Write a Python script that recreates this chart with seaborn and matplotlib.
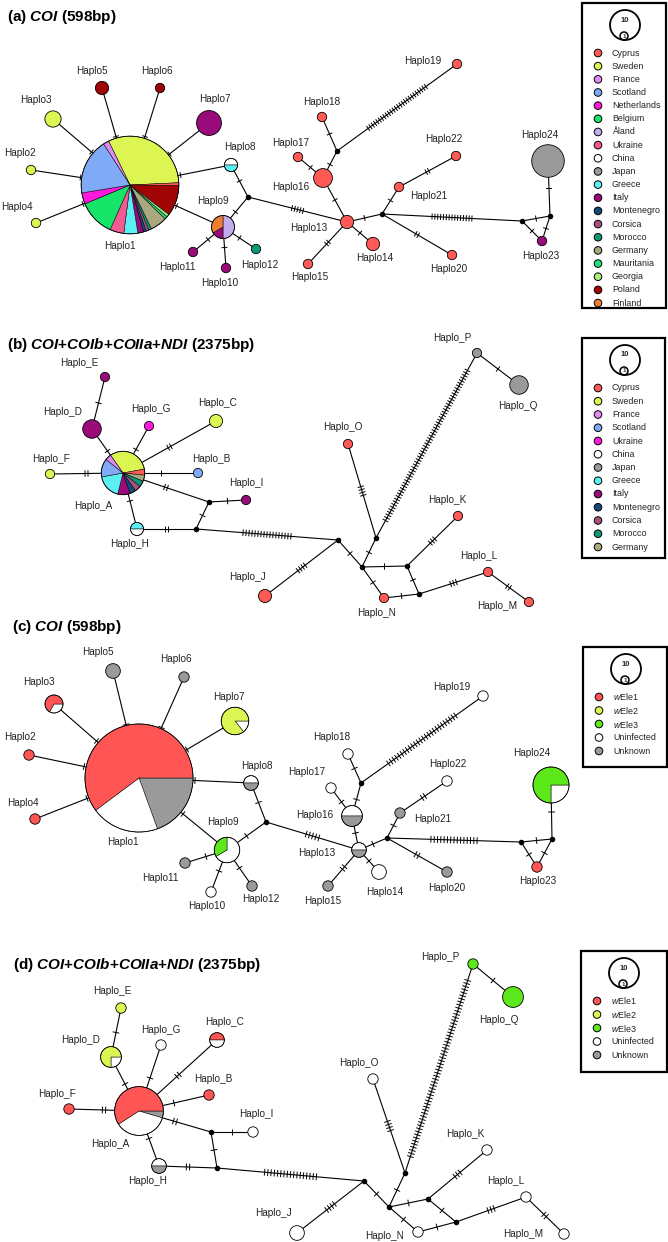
import numpy as np
import matplotlib
matplotlib.use("Agg")
import matplotlib.pyplot as plt
from matplotlib.patches import Wedge, Circle, Rectangle
from matplotlib.collections import LineCollection
import seaborn as sns

sns.set_theme(style="white")
plt.rcParams['font.family'] = ['Liberation Sans', 'DejaVu Sans']
plt.rcParams['mathtext.fontset'] = 'custom'
plt.rcParams['mathtext.rm'] = 'Liberation Sans'
plt.rcParams['mathtext.it'] = 'Liberation Sans:italic'
plt.rcParams['mathtext.bf'] = 'Liberation Sans:bold'
plt.rcParams['mathtext.bfit'] = 'Liberation Sans:italic:bold'

# colours
country_colors = {
    "Cyprus": "#FF5A55", "Sweden": "#DDF553", "France": "#DF8AF2", "Scotland": "#80AAF5",
    "Netherlands": "#FF19DC", "Belgium": "#16E56A", "Åland": "#C2AEEC", "Ukraine": "#F45A92",
    "China": "#FFFFFF", "Japan": "#9A9A9A", "Greece": "#5CF0F5", "Italy": "#9A0A7A",
    "Montenegro": "#0F4A7A", "Corsica": "#A8507E", "Morocco": "#0E9878", "Germany": "#A9A87E",
    "Mauritania": "#20E07A", "Georgia": "#A9F07E", "Poland": "#A00404", "Finland": "#F07E30",
}
country_colors_b = dict(country_colors, Ukraine="#FF19DC")
infection_colors = {"wEle1": "#FF5555", "wEle2": "#DDF553", "wEle3": "#5CE81A",
                    "Uninfected": "#FFFFFF", "Unknown": "#9A9A9A"}

# ---------------- COI haplotypes (panels a, c) ----------------
coi_names = ["Haplo%d" % i for i in range(1, 25)]
coi_country = [
    [("Sweden", 34), ("Cyprus", 1), ("Poland", 11), ("Georgia", 1), ("Mauritania", 1),
     ("Germany", 6), ("Morocco", 1), ("Corsica", 1), ("Montenegro", 1), ("Italy", 2),
     ("Greece", 5), ("Ukraine", 5), ("Belgium", 13), ("Netherlands", 4), ("Scotland", 20),
     ("France", 2)],
    [("Sweden", 1)], [("Sweden", 3)], [("Sweden", 1)], [("Poland", 2)], [("Poland", 1)],
    [("Italy", 7)], [("China", 1), ("Greece", 1)], [("Åland", 3), ("Italy", 1), ("Finland", 2)],
    [("Italy", 1)], [("Italy", 1)], [("Morocco", 1)], [("Cyprus", 2)], [("Cyprus", 2)],
    [("Cyprus", 1)], [("Cyprus", 4)], [("Cyprus", 1)], [("Cyprus", 1)], [("Cyprus", 1)],
    [("Cyprus", 1)], [("Cyprus", 1)], [("Cyprus", 1)], [("Italy", 1)], [("Japan", 12)],
]
coi_infection = [
    [("Unknown", 21), ("Uninfected", 22), ("wEle1", 65)],
    [("wEle1", 1)], [("Uninfected", 1), ("wEle1", 2)], [("wEle1", 1)], [("Unknown", 2)],
    [("Unknown", 1)], [("Uninfected", 1), ("wEle2", 6)], [("Uninfected", 1), ("Unknown", 1)],
    [("Uninfected", 4), ("wEle3", 2)], [("Uninfected", 1)], [("Unknown", 1)], [("Unknown", 1)],
    [("Uninfected", 1), ("Unknown", 1)], [("Uninfected", 2)], [("Unknown", 1)],
    [("Uninfected", 2), ("Unknown", 2)], [("Uninfected", 1)], [("Uninfected", 1)],
    [("Uninfected", 1)], [("Unknown", 1)], [("Unknown", 1)], [("Uninfected", 1)],
    [("wEle1", 1)], [("Uninfected", 3), ("wEle3", 9)],
]
# (from, to, number of mutations)
coi_edges = [
    ("Haplo2", "Haplo1", 1), ("Haplo3", "Haplo1", 1), ("Haplo4", "Haplo1", 1),
    ("Haplo5", "Haplo1", 1), ("Haplo6", "Haplo1", 1), ("Haplo7", "Haplo1", 1),
    ("Haplo8", "Haplo1", 1), ("Haplo9", "Haplo1", 1), ("Haplo8", "mv1", 1),
    ("Haplo9", "mv1", 1), ("Haplo9", "Haplo10", 1), ("Haplo9", "Haplo11", 1),
    ("Haplo9", "Haplo12", 1), ("mv1", "Haplo13", 5), ("Haplo13", "Haplo16", 1),
    ("Haplo16", "Haplo17", 1), ("Haplo16", "mv2", 1), ("mv2", "Haplo18", 1),
    ("mv2", "Haplo19", 26), ("Haplo13", "Haplo14", 1), ("Haplo13", "Haplo15", 2),
    ("Haplo13", "mv3", 1), ("mv3", "Haplo21", 1), ("Haplo21", "Haplo22", 2),
    ("mv3", "Haplo20", 2), ("mv3", "mv4", 15), ("mv4", "mv5", 1), ("mv4", "Haplo23", 1),
    ("mv5", "Haplo23", 1), ("mv5", "Haplo24", 1),
]

# ---------------- concatenated haplotypes (panels b, d) ----------------
cat_names = ["Haplo_" + c for c in "ABCDEFGHIJKLMNOPQ"]
cat_country = [
    [("Sweden", 7), ("Cyprus", 1), ("Germany", 1), ("Morocco", 1), ("Corsica", 1),
     ("Montenegro", 1), ("Italy", 2), ("Greece", 4), ("Scotland", 3), ("France", 1)],
    [("Scotland", 1)], [("Sweden", 2)], [("Italy", 4)], [("Italy", 1)], [("Sweden", 1)],
    [("Ukraine", 1)], [("Greece", 1), ("China", 1)], [("Italy", 1)], [("Cyprus", 2)],
    [("Cyprus", 1)], [("Cyprus", 1)], [("Cyprus", 1)], [("Cyprus", 1)], [("Cyprus", 1)],
    [("Japan", 1)], [("Japan", 4)],
]
cat_infection = [
    [("Unknown", 1), ("Uninfected", 8), ("wEle1", 13)],
    [("wEle1", 1)], [("wEle1", 1), ("Uninfected", 1)], [("Uninfected", 1), ("wEle2", 3)],
    [("wEle2", 1)], [("wEle1", 1)], [("Uninfected", 1)], [("Uninfected", 1), ("Unknown", 1)],
    [("Uninfected", 1)], [("Uninfected", 2)], [("Uninfected", 1)], [("Uninfected", 1)],
    [("Uninfected", 1)], [("Uninfected", 1)], [("Uninfected", 1)], [("wEle3", 1)],
    [("wEle3", 4)],
]
cat_edges = [
    ("Haplo_E", "Haplo_D", 1), ("Haplo_D", "Haplo_A", 1), ("Haplo_G", "Haplo_A", 1),
    ("Haplo_C", "Haplo_A", 2), ("Haplo_F", "Haplo_A", 2), ("Haplo_B", "Haplo_A", 1),
    ("Haplo_A", "mv1", 2), ("mv1", "Haplo_I", 1), ("mv1", "mv2", 1), ("Haplo_A", "Haplo_H", 1),
    ("Haplo_H", "mv2", 2), ("mv2", "mv3", 17), ("mv3", "Haplo_J", 4), ("mv3", "mv4", 1),
    ("mv4", "mv5", 1), ("mv5", "Haplo_O", 4), ("mv5", "Haplo_P", 58), ("Haplo_P", "Haplo_Q", 1),
    ("mv4", "mv6", 1), ("mv6", "Haplo_K", 3), ("mv6", "mv7", 1), ("mv4", "Haplo_N", 1),
    ("Haplo_N", "mv7", 1), ("mv7", "Haplo_L", 3), ("Haplo_L", "Haplo_M", 2),
]

legend_a = ["Cyprus", "Sweden", "France", "Scotland", "Netherlands", "Belgium", "Åland",
            "Ukraine", "China", "Japan", "Greece", "Italy", "Montenegro", "Corsica", "Morocco",
            "Germany", "Mauritania", "Georgia", "Poland", "Finland"]
legend_b = ["Cyprus", "Sweden", "France", "Scotland", "Ukraine", "China", "Japan", "Greece",
            "Italy", "Montenegro", "Corsica", "Morocco", "Germany"]
legend_inf = ["wEle1", "wEle2", "wEle3", "Uninfected", "Unknown"]

# ---------------- layouts (pixel positions) ----------------
a_xy = [(130, 185), (31, 170), (53, 119), (36, 223), (102, 88), (160, 88), (209, 123),
        (231, 165), (223, 227), (226, 268), (193, 252), (256, 249), (347, 222), (373, 244),
        (308, 264), (323, 178), (298, 157), (322, 117), (457, 64), (452, 255), (399, 187),
        (456, 156), (542, 241), (548, 161)]
a_mv = [(248, 197), (337, 151), (382, 214), (522, 221), (550, 216)]
a_lab = [(120, 246), (20, 153), (36, 100), (17, 207), (92, 71), (157, 71), (215, 99),
         (240, 147), (213, 201), (220, 283), (177, 267), (260, 265), (309, 228), (375, 258),
         (310, 277), (291, 187), (291, 143), (322, 102), (423, 61), (449, 269), (429, 196),
         (444, 139), (541, 256), (540, 135)]
a_start = {"Haplo1": 116, "Haplo8": 180, "Haplo9": 90}

c_xy = [(139, 778), (29, 755), (54, 704), (35, 819), (113, 671), (184, 677), (235, 721),
        (251, 783), (227, 850), (211, 892), (185, 863), (252, 886), (359, 850), (379, 872),
        (328, 886), (352, 816), (331, 788), (348, 754), (483, 696), (447, 872), (400, 813),
        (447, 781), (537, 867), (551, 785)]
c_mv = [(266, 822), (361, 783), (387, 838), (521, 842), (552, 839)]
c_lab = [(123, 842), (20, 737), (39, 682), (23, 803), (98, 652), (176, 659), (229, 697),
         (257, 766), (223, 822), (207, 906), (160, 878), (261, 899), (317, 853), (385, 892),
         (323, 901), (315, 815), (307, 772), (332, 737), (452, 687), (447, 888), (433, 819),
         (448, 764), (538, 881), (532, 753)]
c_start = {"Haplo1": 0, "Haplo3": 0, "Haplo7": 0, "Haplo8": 180, "Haplo9": 90,
           "Haplo13": 180, "Haplo16": 180, "Haplo24": 0}

b_xy = [(123, 473), (198, 473), (216, 421), (92, 429), (105, 377), (50, 474), (149, 426),
        (137, 529), (246, 500), (265, 596), (458, 516), (488, 572), (529, 602), (384, 598),
        (348, 444), (477, 353), (519, 385)]
b_mv = [(209, 502), (196, 529), (338, 540), (362, 567), (376, 538), (407, 566), (419, 594)]
b_lab = [(93, 506), (211, 459), (218, 403), (63, 412), (79, 363), (51, 459), (151, 409),
         (130, 544), (246, 483), (247, 577), (447, 500), (479, 556), (497, 606), (377, 613),
         (343, 427), (452, 338), (518, 406)]
b_start = {"Haplo_A": 125, "Haplo_H": 180}

d_xy = [(139, 1111), (209, 1095), (217, 1040), (111, 1057), (121, 1008), (69, 1109),
        (161, 1045), (159, 1166), (253, 1132), (297, 1233), (487, 1150), (526, 1197),
        (564, 1234), (418, 1232), (373, 1079), (473, 964), (513, 997)]
d_mv = [(211, 1132), (217, 1168), (364, 1181), (389, 1207), (405, 1173), (428, 1199),
        (456, 1222)]
d_lab = [(110, 1144), (213, 1079), (225, 1022), (81, 1040), (112, 991), (57, 1094),
         (161, 1030), (148, 1181), (256, 1114), (273, 1213), (465, 1134), (506, 1181),
         (523, 1234), (385, 1236), (359, 1063), (440, 957), (499, 1020)]
d_start = {"Haplo_A": 0, "Haplo_C": 180, "Haplo_D": 0, "Haplo_H": 180}


def draw_network(ax, names, comps, xy, lab_xy, start, mv_xy, edges, palette, r1, gap, half):
    pos = dict(zip(names, xy))
    for i, p in enumerate(mv_xy):
        pos["mv%d" % (i + 1)] = p
    segs, ticks = [], []
    for a, b, n in edges:
        p, q = np.array(pos[a], float), np.array(pos[b], float)
        segs.append([p, q])
        u = (q - p) / np.hypot(*(q - p))
        perp = np.array([-u[1], u[0]])
        mid = (p + q) / 2
        for k in range(n):
            c = mid + (k - (n - 1) / 2) * gap * u
            ticks.append([c - half * perp, c + half * perp])
    ax.add_collection(LineCollection(segs, colors="black", linewidths=0.8, zorder=1))
    ax.add_collection(LineCollection(ticks, colors="black", linewidths=0.7, zorder=1))

    for name, comp, (x, y) in zip(names, comps, xy):
        total = sum(c for _, c in comp)
        r = r1 * np.sqrt(total)
        face = palette[comp[0][0]]
        if len(comp) > 1:
            # slices run clockwise on screen from the start angle
            t = -start.get(name, 90)
            for grp, c in comp:
                w = 360.0 * c / total
                ax.add_patch(Wedge((x, y), r, t, t + w, facecolor=palette[grp],
                                   edgecolor="black", linewidth=0.35, zorder=3))
                t += w
            face = "none"
        ax.add_patch(Circle((x, y), r, facecolor=face, edgecolor="black",
                            linewidth=0.6, zorder=3))

    mx, my = zip(*mv_xy)
    sns.scatterplot(x=list(mx), y=list(my), color="black", s=16, linewidth=0,
                    zorder=4, ax=ax, legend=False)
    for name, (lx, ly) in zip(names, lab_xy):
        ax.text(lx, ly, name, ha="center", va="center", fontsize=7.2,
                color="#222222", zorder=5)


def draw_legend(ax, box, groups, palette, dy, italic_w=False):
    x0, y0, x1, y1 = box
    ax.add_patch(Rectangle((x0, y0), x1 - x0, y1 - y0, fill=False, edgecolor="black",
                           linewidth=1.6, zorder=5))
    cx, cy = x0 + 43, y0 + 22
    ax.add_patch(Circle((cx, cy), 15, fill=False, edgecolor="black", linewidth=1.3, zorder=5))
    ax.add_patch(Circle((cx - 1, cy + 11), 4, fill=False, edgecolor="black", linewidth=1.1,
                        zorder=5))
    ax.text(cx, cy - 5, "10", ha="center", va="center", fontsize=5.5, fontweight="bold", zorder=6)
    ax.text(cx - 1, cy + 11, "1", ha="center", va="center", fontsize=4.5, fontweight="bold",
            zorder=6)
    ys = [y0 + 50 + i * dy for i in range(len(groups))]
    sns.scatterplot(x=[x0 + 16] * len(groups), y=ys, hue=groups, palette=palette, s=30,
                    edgecolor="black", linewidth=0.7, zorder=6, ax=ax, legend=False)
    for g, y in zip(groups, ys):
        txt = r"$\mathit{w}$" + g[1:] if italic_w and g.startswith("w") else g
        ax.text(x0 + 30, y, txt, ha="left", va="center", fontsize=6.4, color="#222222", zorder=6)


fig = plt.figure(figsize=(6.68, 12.42), dpi=100)
ax = fig.add_axes([0, 0, 1, 1])

draw_network(ax, coi_names, coi_country, a_xy, a_lab, a_start, a_mv, coi_edges,
             country_colors, 4.7, 2.85, 3.0)
draw_network(ax, cat_names, cat_country, b_xy, b_lab, b_start, b_mv, cat_edges,
             country_colors_b, 4.63, 3.0, 3.2)
draw_network(ax, coi_names, coi_infection, c_xy, c_lab, c_start, c_mv, coi_edges,
             infection_colors, 5.2, 3.3, 3.4)
draw_network(ax, cat_names, cat_infection, d_xy, d_lab, d_start, d_mv, cat_edges,
             infection_colors, 5.2, 3.25, 3.4)

draw_legend(ax, (582, 3, 666, 308), legend_a, country_colors, 13.16)
draw_legend(ax, (582, 338, 665, 558), legend_b, country_colors_b, 13.25)
draw_legend(ax, (583, 647, 667, 767), legend_inf, infection_colors, 13.5, italic_w=True)
draw_legend(ax, (581, 951, 667, 1072), legend_inf, infection_colors, 13.5, italic_w=True)

title_kw = dict(fontsize=11, fontweight="bold", ha="left", va="center", color="black")
ax.text(7, 17, r"(a) $\mathbfit{COI}$ (598bp)", **title_kw)
ax.text(7, 345, r"(b) $\mathbfit{COI}$+$\mathbfit{COIb}$+$\mathbfit{COIIa}$+$\mathbfit{NDI}$ (2375bp)",
        **title_kw)
ax.text(12, 627, r"(c) $\mathbfit{COI}$ (598bp)", **title_kw)
ax.text(13, 965, r"(d) $\mathbfit{COI}$+$\mathbfit{COIb}$+$\mathbfit{COIIa}$+$\mathbfit{NDI}$ (2375bp)",
        **title_kw)

ax.set_xlim(0, 668)
ax.set_ylim(1242, 0)
ax.axis("off")
fig.savefig("out.png", dpi=100)
